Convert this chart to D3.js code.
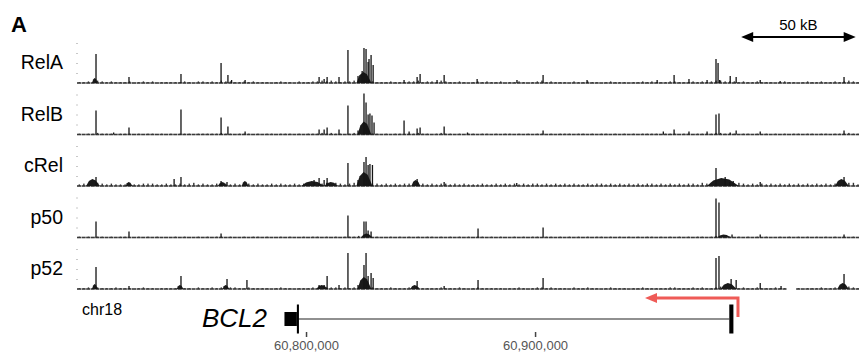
<!DOCTYPE html>
<html><head><meta charset="utf-8">
<script src="https://cdn.jsdelivr.net/npm/d3@7"></script>
<style>body{margin:0;background:#fff}svg{display:block;font-family:"Liberation Sans",Arial,sans-serif}</style>
</head><body>
<svg id="c" width="859" height="352"></svg>
<script>
// ---------------- DATA ----------------
const REGION_START = 60700000;   // chr18 window start (bp)
const REGION_END   = 61041000;   // chr18 window end (bp)
const chromosome = "chr18";
const trackNames = ["RelA", "RelB", "cRel", "p50", "p52"];
const axisTicks = [60800000, 60900000];
const scaleBarKb = [290, 340];   // kb offsets of the 50 kB bar
const scaleBarLabel = "50 kB";

// peaks: [kb offset from window start, signal height, optional width in kb]
const peaksRelA = [[7.8,5,2.5],[8.3,29],[22.7,6],[45.4,9],[62.9,20],[65.9,8],[67.5,3],[73.4,3],[105.7,6],[107.9,4],[109.2,6],
  [114.4,6],[118.3,33],[122.7,7],[125.3,11,6.5],[124.5,12],[125.3,35],[126.2,34],[127.1,21],[127.5,24],[128.4,28],[129.3,18],
  [142.8,3],[148.5,6],[149.8,9],[157.2,3],[160.3,8],[174.7,4],[192.1,3],[203.5,8],[222.7,3],[253.3,3],[260.7,8],[267.2,4],
  [275.1,3],[279.0,24],[279.9,20],[280.6,3],[285.2,7],[287.8,6],[298.3,3],[307.0,2],[334.9,6]];
const peaksRelB = [[8.3,24],[16,2],[22.7,7],[45.4,25],[62.9,17],[65.9,8],[73.4,3],[105.7,5],[107.9,5],[109.2,7],[114.4,5],
  [118.3,29],[122.7,4],[125.5,13,6],[125.3,41],[126.2,32],[127.1,20],[127.9,21],[128.8,19],[129.7,12],[142.8,14],[145,3],
  [148.5,6],[149.8,7],[160.3,8],[170.5,2],[203.5,4],[256,3],[260.7,5],[267.2,3],[275.1,3],[279.0,20],[280.3,21],[285.2,2],
  [287.8,4],[298.3,3],[334.9,4]];
const peaksCRel = [[7,7,6],[8.3,9],[22.7,4,3],[42.4,7],[45.4,9],[63.5,4,4],[62.9,5],[65.5,4],[73.4,5,3],[103,5,10],[103.5,6],
  [105.7,8],[107.9,6],[109.2,8],[111,4,6],[118.3,23],[122.7,6],[125.5,14,7],[125.3,24],[126.2,29],[127.1,21],[127.9,22],
  [129.0,21],[148,6,4],[148.5,7],[160.3,4],[192,3],[279.0,18],[282,8,14],[283,9],[285,4],[286.5,5],[298.3,4],[334,7,6],[334.9,9]];
const peaksP50 = [[8.3,16],[22.7,6],[62.9,4],[118.3,22],[125.3,16],[126.2,16],[127.1,7],[128.4,6],[126.5,4,5],[175.1,9],
  [203.5,10],[279.0,39],[280.3,35],[282.5,3,6],[286,3],[298.3,3],[334.9,3]];
const peaksP52 = [[7.8,5,2.5],[8.3,22],[22.7,3],[45,4,3],[45.4,13],[65,4,3],[65.5,10],[74.2,9],[105.7,4],[107,4,5],[107.9,4],
  [109.2,13],[114.4,4],[118.3,36],[122.7,4],[125.5,12,6],[125.3,24],[126.2,36],[127.1,13],[128.4,16],[129.3,11],[147.5,4,4],
  [148.5,8],[160.3,3],[175.1,9],[203.5,11],[279.0,31],[280.3,33],[284.5,6,7],[285.6,10],[287.8,9],[298.3,6],[307.4,3],[334.5,6,5],[334.9,15]];

// background signal per 2 kb bin (digit = height, '-' = no data)
const bgRelA = ["1121321211","1201212011","1112102212","1322112121","1101211021","1223232122","3344211121","1122312213","2112101212",
  "1120112101","2312111021","1211012111","0112121112","2111212123","3222121121","1101211012","11211212321"].join("");
const bgRelB = ["1011211101","1101011010","1011101111","1211011101","0110111010","1112121101","2232110101","1011211012","1101011011",
  "0101101010","1101011101","1010110101","0101111011","1011011112","2111011010","1010101101","10110111211"].join("");
const bgCRel = ["2324432322","2322333223","2232342322","3432322323","2232322323","3343434323","4555332323","2334432323","3232322232",
  "2323232323","3232323232","2323323232","3232332323","2323324342","4443432323","2323232323","23232334442"].join("");
const bgP50 = ["1010110101","1001010100","0101001010","1101001011","0100101001","0110101011","1211010010","1010101101","0101010110",
  "1010010101","1011010101","0101101010","1010110101","0101011012","2110101010","1001010101","01010101010"].join("");
const bgP52 = ["1121211121","1101211011","1121102112","1212211211","1101211011","1213222121","2333211121","1121211112","1112101211",
  "1110112101","2212111021","1211012111","0112111112","2111212112","3221121121","11211--101","11211212321"].join("");
const BIN_KB = 2;

const trackPeaks = [peaksRelA, peaksRelB, peaksCRel, peaksP50, peaksP52];
const trackBg = [bgRelA, bgRelB, bgCRel, bgP50, bgP52];

// gene model (BCL2, minus strand)
const geneName = "BCL2";
const geneExons = [[60790579, 60796000, "utr"], [60796000, 60796900, "cds"], [60984800, 60986600, "cds"]];
const tssArrow = [60988600, 60948000]; // from TSS, pointing in transcription direction

// ---------------- DRAW ----------------
const svg = d3.select("#c");
svg.append("rect").attr("width", 859).attr("height", 352).attr("fill", "#fff");

const x = d3.scaleLinear().domain([REGION_START, REGION_END]).range([77, 858]);
const kb = k => REGION_START + k * 1000;
const baseY = d3.scaleLinear().domain([0, trackNames.length - 1]).range([83, 289]);
const h = d3.scaleLinear().domain([0, 42]).range([0, 42]);

svg.append("text").attr("x", 11).attr("y", 32).attr("font-weight", "bold").attr("font-size", 22).text("A");

// scale bar
const sbx0 = x(kb(scaleBarKb[0])), sbx1 = x(kb(scaleBarKb[1])), sby = 37;
svg.append("line").attr("x1", sbx0 + 8).attr("x2", sbx1 - 8).attr("y1", sby).attr("y2", sby)
  .attr("stroke", "#000").attr("stroke-width", 2);
svg.append("path").attr("d", `M${sbx0},${sby}L${sbx0+12},${sby-5}L${sbx0+12},${sby+5}Z`).attr("fill", "#000");
svg.append("path").attr("d", `M${sbx1},${sby}L${sbx1-12},${sby-5}L${sbx1-12},${sby+5}Z`).attr("fill", "#000");
svg.append("text").attr("x", (sbx0 + sbx1) / 2).attr("y", 30).attr("text-anchor", "middle")
  .attr("font-size", 15).text(scaleBarLabel);

// tracks
trackNames.forEach((name, i) => {
  const b = baseY(i);
  const g = svg.append("g");
  const yAx = d3.scaleLinear().domain([0, 42]).range([b, b - 42]);
  const ax = g.append("g").attr("transform", "translate(78,0)")
    .call(d3.axisLeft(yAx).tickValues([10, 20, 30, 40]).tickSize(2).tickFormat(""));
  ax.select(".domain").remove();
  ax.selectAll("line").attr("stroke", "#c8c8c8");

  svg.append("text").attr("x", 63).attr("y", b - 14).attr("text-anchor", "end")
    .attr("font-size", 19.5).text(name);

  const bg = trackBg[i].split("").map((c, j) => ({c, j}));
  g.selectAll("rect.base").data(bg.filter(d => d.c !== "-")).join("rect")
    .attr("x", d => x(kb(d.j * BIN_KB)))
    .attr("width", d => x(kb((d.j + 1) * BIN_KB)) - x(kb(d.j * BIN_KB)) - 0.5)
    .attr("y", b - 0.8).attr("height", 1.6).attr("fill", "#3a3a3a");
  g.selectAll("rect.bg").data(bg.filter(d => d.c !== "-" && +d.c > 0)).join("rect")
    .attr("x", d => x(kb((d.j + 0.5) * BIN_KB)) - 0.7)
    .attr("width", 1.4)
    .attr("y", d => b - h(+d.c * 0.8)).attr("height", d => h(+d.c * 0.8)).attr("fill", "#333");

  const pk = trackPeaks[i];
  // broad humps
  const area = d3.area().x(p => p[0]).y0(b).y1(p => p[1]).curve(d3.curveLinear);
  g.selectAll("path.hump").data(pk.filter(d => d[2])).join("path")
    .attr("d", d => {
      const x0 = x(kb(d[0] - d[2] / 2)), x1 = x(kb(d[0] + d[2] / 2)), w = x1 - x0, t = b - h(d[1]);
      return area([[x0, b], [x0 + w * 0.2, b - h(d[1] * 0.7)], [x0 + w * 0.45, t], [x0 + w * 0.7, b - h(d[1] * 0.8)], [x1, b]]);
    })
    .attr("fill", "#1a1a1a");
  // narrow peaks
  g.selectAll("rect.pk").data(pk.filter(d => !d[2])).join("rect")
    .attr("x", d => x(kb(d[0])) - 0.65).attr("width", 1.3)
    .attr("y", d => b - h(d[1])).attr("height", d => h(d[1])).attr("fill", "#141414");
});

svg.append("text").attr("x", 82).attr("y", 315).attr("font-size", 16).text(chromosome);

// gene model
const gy = 319;
svg.append("line").attr("x1", x(geneExons[0][1])).attr("x2", x(geneExons[2][0]))
  .attr("y1", gy).attr("y2", gy).attr("stroke", "#222").attr("stroke-width", 1.2);
svg.selectAll("rect.exon").data(geneExons).join("rect")
  .attr("x", d => x(d[0])).attr("width", d => Math.max(2, x(d[1]) - x(d[0])))
  .attr("y", d => d[2] === "utr" ? gy - 7 : gy - 14.5)
  .attr("height", d => d[2] === "utr" ? 14 : 29).attr("fill", "#000");
svg.append("text").attr("x", 267).attr("y", 327).attr("text-anchor", "end")
  .attr("font-size", 26).attr("font-style", "italic").text(geneName);

// TSS arrow
const ax0 = x(tssArrow[0]), ax1 = x(tssArrow[1]), ay = 298;
svg.append("path").attr("d", `M${ax0},317V${ay}H${ax1 + 10}`).attr("fill", "none")
  .attr("stroke", "#ef5b57").attr("stroke-width", 3);
svg.append("path").attr("d", `M${ax1},${ay}L${ax1+12},${ay-5}L${ax1+12},${ay+5}Z`).attr("fill", "#ef5b57");

// genomic axis
const gax = svg.append("g").attr("transform", "translate(0,332)")
  .call(d3.axisBottom(x).tickValues(axisTicks).tickFormat(d3.format(",")).tickSize(5).tickPadding(4));
gax.select(".domain").remove();
gax.selectAll("line").attr("stroke", "#444").attr("stroke-width", 1.5);
gax.selectAll("text").attr("fill", "#555").attr("font-size", 13)
  .attr("font-family", "'Liberation Sans',Arial,sans-serif");
</script>
</body></html>
